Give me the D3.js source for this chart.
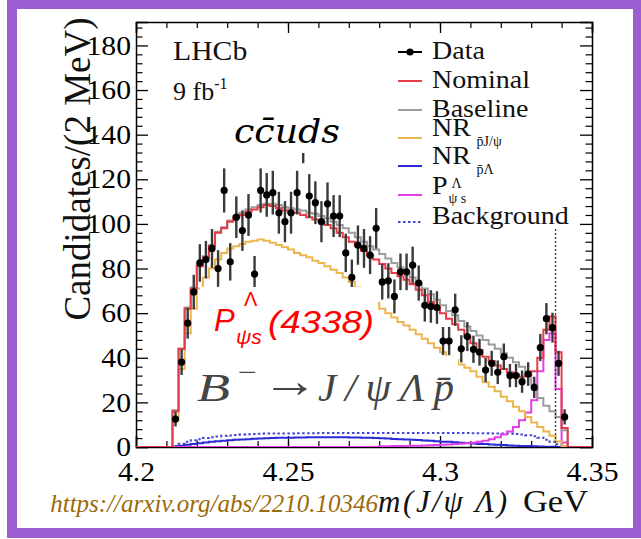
<!DOCTYPE html>
<html lang="en">
<head>
<meta charset="UTF-8">
<title>m(J/psi Lambda) fit</title>
<script src="https://cdnjs.cloudflare.com/ajax/libs/d3/7.8.5/d3.min.js"></script>
<style>
  body { margin: 0; background: #fff; }
  svg { display: block; }
</style>
</head>
<body>
<svg width="641" height="539"></svg>
<script>
// bin centres (GeV), 2 MeV bins
const mass = [
  4.213, 4.215, 4.217, 4.219, 4.221, 4.223, 4.225, 4.227, 4.229, 4.231,
  4.233, 4.235, 4.237, 4.239, 4.241, 4.243, 4.245, 4.247, 4.249, 4.251,
  4.253, 4.255, 4.257, 4.259, 4.261, 4.263, 4.265, 4.267, 4.269, 4.271,
  4.273, 4.275, 4.277, 4.279, 4.281, 4.283, 4.285, 4.287, 4.289, 4.291,
  4.293, 4.295, 4.297, 4.299, 4.301, 4.303, 4.305, 4.307, 4.309, 4.311,
  4.313, 4.315, 4.317, 4.319, 4.321, 4.323, 4.325, 4.327, 4.329, 4.331,
  4.333, 4.335, 4.337, 4.339, 4.341
];
const data = [
  12.5, 38, 55.5, 69.5, 82.5, 84, 89, 80, 115, 83,
  103, 97, 104, 77.5, 115, 113, 114, 105, 101, 105,
  114, 138, 112.5, 109.5, 101, 109, 103.5, 103.5, 87, 76,
  90.5, 89, 86, 98, 74, 74.5, 67.5, 78.5, 78.5, 81.5,
  73.5, 63.5, 63, 62.5, 47.5, 47.5, 61.5, 44, 49.5, 43.8,
  42.5, 34.5, 37.5, 33.5, 40.5, 32, 32, 29.3, 32.7, 26.7,
  44.6, 57.5, 53.5, 37.5, 13.5
];
const dataErr = [
  3.3, 5.7, 6.9, 7.7, 8.4, 8.4, 8.7, 8.2, 9.9, 8.4,
  9.3, 9.1, 9.4, 8.1, 9.9, 9.8, 9.8, 9.4, 9.2, 9.4,
  9.8, 10.8, 9.8, 9.6, 9.2, 9.6, 9.4, 9.4, 8.6, 8.0,
  8.8, 8.7, 8.5, 9.1, 7.9, 7.9, 7.6, 8.2, 8.2, 8.3,
  7.9, 7.3, 7.3, 7.3, 6.3, 6.3, 7.2, 6.1, 6.5, 6.1,
  6.0, 5.4, 5.6, 5.3, 5.9, 5.2, 5.2, 5.0, 5.3, 4.8,
  6.1, 7.0, 6.7, 5.6, 3.4
];
const nominal = [
  16, 44, 62, 71, 81, 85, 90, 96, 98, 101,
  103, 104, 105.5, 106.5, 107.5, 108.5, 108, 107, 106, 105,
  105, 104, 103, 102, 101, 99.5, 98, 96, 94, 92,
  90, 88, 86, 84, 82, 80, 78, 76.5, 75, 73,
  70.5, 68, 65, 62.5, 60, 57.5, 55, 52.5, 49.5, 46.5,
  43.5, 40.5, 38.5, 36.5, 35, 33.5, 32.5, 31.5, 32, 34,
  40, 52.5, 58.5, 42.5, 8.5
];
const baseline = [
  16.5, 44, 62.5, 71.5, 81.5, 85.5, 90.5, 96.5, 98.5, 101.5,
  103.5, 105, 106.5, 107.5, 108.5, 109, 109, 108.5, 107.5, 107,
  106.5, 106, 105, 104.5, 103.5, 102.5, 101, 99.5, 98, 96,
  94, 92, 90, 88.5, 86.5, 84.5, 82.5, 80.5, 78.5, 76,
  73.5, 71, 68.5, 66, 63.5, 61, 59, 56.5, 54, 52,
  50, 48, 46, 44, 42, 40, 38, 36, 32, 28,
  22, 18.5, 16, 13.5, 7.5
];
const nrPJpsi = [
  12, 35, 51, 62, 71, 76, 80, 84, 87, 89,
  90, 91, 92, 92.5, 93, 92.5, 91.5, 90.5, 89.5, 88.5,
  87, 86, 85, 83.5, 82.5, 81, 79.5, 78, 76, 74,
  71.5, 69, 67, 64.5, 62, 60, 58, 56, 54.5, 52.5,
  50.5, 48.5, 46.5, 44.5, 42.5, 40.5, 39, 37, 35.5, 34,
  31.5, 29, 27, 25, 22.5, 20.5, 18, 16, 13.5, 11,
  9, 7, 5, 2.5, 0.5
];
const nrPLambda = [
  0.2, 0.6, 1.0, 1.4, 1.7, 2.0, 2.3, 2.6, 2.8, 3.0,
  3.2, 3.4, 3.5, 3.7, 3.8, 3.9, 4.0, 4.1, 4.2, 4.2,
  4.3, 4.3, 4.4, 4.4, 4.4, 4.4, 4.4, 4.4, 4.4, 4.3,
  4.3, 4.2, 4.1, 4.0, 3.9, 3.8, 3.6, 3.5, 3.4, 3.2,
  3.1, 2.9, 2.8, 2.6, 2.4, 2.3, 2.1, 1.9, 1.8, 1.6,
  1.4, 1.3, 1.1, 1.0, 0.9, 0.7, 0.6, 0.5, 0.4, 0.3,
  0.2, 0.1, 0.1, 0.05, 0
];
const pPsiS = [
  0, 0, 0, 0, 0, 0, 0, 0, 0, 0,
  0, 0, 0, 0, 0, 0, 0, 0, 0, 0,
  0, 0, 0, 0, 0, 0, 0, 0, 0, 0,
  0, 0, 0, 0, 0.3, 0.35, 0.4, 0.45, 0.5, 0.55,
  0.6, 0.7, 0.8, 0.9, 1.0, 1.1, 1.3, 1.5, 1.7, 1.9,
  2.3, 2.8, 3.5, 4.4, 5.6, 7.0, 9.0, 12, 15.5, 21,
  34, 48, 51, 26, 2
];
const background = [
  0.5, 1.5, 2.3, 3.0, 3.5, 4.0, 4.4, 4.7, 5.0, 5.2,
  5.4, 5.6, 5.7, 5.8, 5.9, 6.0, 6.0, 6.1, 6.1, 6.1,
  6.2, 6.2, 6.2, 6.2, 6.3, 6.3, 6.3, 6.3, 6.3, 6.3,
  6.3, 6.3, 6.3, 6.3, 6.3, 6.3, 6.3, 6.3, 6.3, 6.3,
  6.3, 6.3, 6.3, 6.3, 6.3, 6.3, 6.3, 6.3, 6.3, 6.2,
  6.2, 6.2, 6.1, 6.1, 6.0, 6.0, 5.8, 5.6, 5.3, 4.8,
  4.2, 3.3, 2.4, 1.2, 0.3
];
const xTicks = [4.2, 4.25, 4.3, 4.35];
const xTickLabels = ['4.2', '4.25', '4.3', '4.35'];
const yTicks = [0, 20, 40, 60, 80, 100, 120, 140, 160, 180];
const markMass = 4.338;   // dotted marker line
const markTop = 98;

const serif = '"Liberation Serif", "Times New Roman", serif';
const sans = '"Liberation Sans", Arial, sans-serif';
const half = 0.001;  // half bin width

const svg = d3.select('svg');
const plot = { left: 136, right: 592, top: 22, bottom: 447 };

const x = d3.scaleLinear().domain([4.2, 4.35]).range([plot.left, plot.right]);
const y = d3.scaleLinear().domain([0, 190.5]).range([plot.bottom, plot.top]);

// stretch text horizontally, the picture is a bit wide
function stretch(sel, k) {
  sel.each(function () {
    const w = this.getComputedTextLength();
    d3.select(this).attr('textLength', w * k).attr('lengthAdjust', 'spacingAndGlyphs');
  });
}

svg.append('rect').attr('width', 641).attr('height', 539).attr('fill', '#fff');

svg.append('clipPath').attr('id', 'clip')
  .append('rect')
  .attr('x', plot.left).attr('y', plot.top)
  .attr('width', plot.right - plot.left).attr('height', plot.bottom - plot.top);

// axes, ticks pointing inward
function addAxis(axis, tr, major, minor, minorVals) {
  const ga = svg.append('g').attr('transform', tr).call(axis.tickSize(-major));
  ga.attr('font-family', serif);
  ga.selectAll('text').attr('font-family', serif).attr('font-size', 27).attr('fill', '#000');
  ga.selectAll('line').attr('stroke', '#000').attr('stroke-width', 1.3);
  ga.select('.domain').attr('stroke', '#000').attr('stroke-width', 1.5);
  const gm = svg.append('g').attr('transform', tr)
    .call(axis.tickValues(minorVals).tickSize(-minor).tickFormat(''));
  gm.select('.domain').remove();
  gm.selectAll('line').attr('stroke', '#000').attr('stroke-width', 1.2);
  return ga;
}
const xMinor = d3.range(4.21, 4.3499, 0.01);
const yMinor = d3.range(4, 190, 4).filter(v => v % 20 !== 0);

const gx = addAxis(d3.axisBottom(x).tickValues(xTicks).tickFormat((d, i) => xTickLabels[i])
  .tickSizeOuter(0).tickPadding(15), `translate(0,${plot.bottom})`, 11, 6, xMinor);
const gy = addAxis(d3.axisLeft(y).tickValues(yTicks).tickSizeOuter(0).tickPadding(5),
  `translate(${plot.left},0)`, 12, 6.5, yMinor);
addAxis(d3.axisTop(x).tickValues(xTicks).tickFormat('').tickSizeOuter(0),
  `translate(0,${plot.top})`, 11, 6, xMinor);
addAxis(d3.axisRight(y).tickValues(yTicks).tickFormat('').tickSizeOuter(0),
  `translate(${plot.right},0)`, 12, 6.5, yMinor);
stretch(gx.selectAll('text'), 1.1);
stretch(gy.selectAll('text'), 1.1);

// step histograms
function stepPath(vals) {
  let p = `M${x(4.2)},${y(0)}`;
  vals.forEach((v, i) => {
    p += `H${x(mass[i] - half)}V${y(v)}H${x(mass[i] + half)}`;
  });
  return p + `V${y(0)}H${x(4.35)}`;
}

const curves = [
  { vals: background, color: '#4646d6', dash: '2.5,2.5' },
  { vals: nrPLambda, color: '#2a2ad6' },
  { vals: pPsiS, color: '#e23fe6' },
  { vals: nrPJpsi, color: '#ebb650' },
  { vals: baseline, color: '#9c9c9c' },
  { vals: nominal, color: '#e43d47' }
];
const gc = svg.append('g').attr('clip-path', 'url(#clip)');
gc.selectAll('path.h').data(curves).join('path')
  .attr('class', 'h')
  .attr('d', d => stepPath(d.vals))
  .attr('fill', 'none')
  .attr('stroke', d => d.color)
  .attr('stroke-width', 2)
  .attr('stroke-dasharray', d => d.dash || null);

// threshold marker
gc.append('line')
  .attr('x1', x(markMass)).attr('x2', x(markMass))
  .attr('y1', y(0)).attr('y2', y(markTop))
  .attr('stroke', '#333').attr('stroke-width', 1.3).attr('stroke-dasharray', '2,2');

// data points
const pts = gc.selectAll('g.pt').data(mass).join('g').attr('class', 'pt');
pts.append('line')
  .attr('x1', d => x(d)).attr('x2', d => x(d))
  .attr('y1', (d, i) => y(data[i] - dataErr[i]))
  .attr('y2', (d, i) => y(data[i] + dataErr[i]))
  .attr('stroke', '#3a3a3a').attr('stroke-width', 2.4);
pts.append('circle')
  .attr('cx', d => x(d)).attr('cy', (d, i) => y(data[i]))
  .attr('r', 3.6).attr('fill', '#000');

// overlay boxes with annotations
svg.append('rect').attr('x', 226).attr('y', 98).attr('width', 124).attr('height', 55).attr('fill', '#fff');
svg.append('rect').attr('x', 200).attr('y', 287).attr('width', 178).attr('height', 65).attr('fill', '#fff');
svg.append('rect').attr('x', 194).attr('y', 356).attr('width', 264).attr('height', 69).attr('fill', '#fff');

svg.append('text').attr('x', 234).attr('y', 143)
  .attr('font-family', '"DejaVu Serif", serif').attr('font-style', 'italic')
  .attr('font-size', 34).attr('textLength', 106).attr('lengthAdjust', 'spacingAndGlyphs')
  .text('cc\u0304uds');

const red = svg.append('g').attr('fill', '#ff0000').attr('font-family', sans);
red.append('text').attr('x', 214).attr('y', 331).attr('font-size', 31).attr('font-style', 'italic').text('P');
red.append('text').attr('x', 244).attr('y', 306).attr('font-size', 20).text('Λ');
red.append('text').attr('x', 236).attr('y', 344).attr('font-size', 21).attr('font-style', 'italic').text('ψs');
red.append('text').attr('x', 268).attr('y', 333).attr('font-size', 32).attr('font-style', 'italic')
  .attr('textLength', 106).attr('lengthAdjust', 'spacingAndGlyphs').text('(4338)');

const dec = svg.append('g').attr('fill', '#444').attr('font-family', serif).attr('font-size', 41);
dec.append('text').attr('x', 197).attr('y', 401).attr('font-style', 'italic')
  .attr('textLength', 33).attr('lengthAdjust', 'spacingAndGlyphs').text('B');
dec.append('text').attr('x', 238).attr('y', 381).attr('font-size', 26)
  .attr('textLength', 19).attr('lengthAdjust', 'spacingAndGlyphs').text('−');
dec.append('text').attr('x', 262).attr('y', 397).attr('font-size', 48).attr('textLength', 56)
  .attr('lengthAdjust', 'spacingAndGlyphs').text('→');
dec.append('text').attr('x', 318).attr('y', 401).attr('font-style', 'italic')
  .attr('textLength', 136).attr('lengthAdjust', 'spacing').text('J/ψΛp\u0304');

// LHCb label
const lab = svg.append('g').attr('font-family', serif).attr('fill', '#111');
stretch(lab.append('text').attr('x', 173).attr('y', 60).attr('font-size', 27).text('LHCb'), 1.1);
const lumi = lab.append('text').attr('x', 173).attr('y', 100).attr('font-size', 26);
lumi.append('tspan').text('9 fb');
lumi.append('tspan').attr('font-size', 16).attr('dy', -11).text('-1');

// legend
const lg = svg.append('g').attr('font-family', serif).attr('fill', '#111');
const lx0 = 398, lx1 = 422, tx = 432;
const legendRows = [
  { name: 'Data', ly: 52, ty: 59 },
  { name: 'Nominal', ly: 81, ty: 88, color: '#e43d47' },
  { name: 'Baseline', ly: 110, ty: 117, color: '#9c9c9c' },
  { name: 'NR', sub: 'p\u0304J/ψ', ly: 138, ty: 136, color: '#ebb650' },
  { name: 'NR', sub: 'p\u0304Λ', ly: 166, ty: 164, color: '#2a2ad6' },
  { name: 'P', ly: 195, ty: 194, color: '#e23fe6' },
  { name: 'Background', ly: 222, ty: 224, color: '#4646d6', dash: '2.5,2.5' }
];
legendRows.forEach((r, i) => {
  lg.append('line').attr('x1', lx0).attr('x2', lx1).attr('y1', r.ly).attr('y2', r.ly)
    .attr('stroke', r.color || '#000').attr('stroke-width', 2)
    .attr('stroke-dasharray', r.dash || null);
  if (i === 0) lg.append('circle').attr('cx', (lx0 + lx1) / 2).attr('cy', r.ly).attr('r', 3.6).attr('fill', '#000');
  const t = lg.append('text').attr('x', tx).attr('y', r.ty).attr('font-size', 25).text(r.name);
  stretch(t, 1.12);
  const w = t.node().getComputedTextLength() * 1.12;
  if (r.sub) {
    lg.append('text').attr('x', tx + w + 1).attr('y', r.ty + 10).attr('font-size', 14).text(r.sub);
  }
  if (r.name === 'P') {
    lg.append('text').attr('x', tx + w + 2).attr('y', r.ty - 6).attr('font-size', 14).text('Λ');
    lg.append('text').attr('x', tx + w - 1).attr('y', r.ty + 9).attr('font-size', 14).text('ψ s');
  }
});

// y title
svg.append('text')
  .attr('transform', `translate(90,169) rotate(-90)`)
  .attr('text-anchor', 'middle')
  .attr('font-family', serif).attr('font-size', 37).attr('fill', '#111')
  .text('Candidates/(2 MeV)');

// x title
const xt = svg.append('g').attr('font-family', serif).attr('font-size', 31).attr('fill', '#111');
xt.append('text').attr('x', 378).attr('y', 512).attr('font-style', 'italic')
  .attr('textLength', 129).attr('lengthAdjust', 'spacing').text('m(J/ψ Λ)');
xt.append('text').attr('x', 523).attr('y', 512)
  .attr('textLength', 65).attr('lengthAdjust', 'spacingAndGlyphs').text('GeV');

// source link
svg.append('text').attr('x', 378).attr('y', 512).attr('text-anchor', 'end')
  .attr('font-family', serif).attr('font-style', 'italic').attr('font-size', 25)
  .attr('fill', '#9c6a08')
  .text('https://arxiv.org/abs/2210.10346');

// purple frame
svg.append('rect').attr('x', 12).attr('y', 4).attr('width', 626).attr('height', 529)
  .attr('fill', 'none').attr('stroke', '#9b5dd0').attr('stroke-width', 10);
</script>
</body>
</html>
